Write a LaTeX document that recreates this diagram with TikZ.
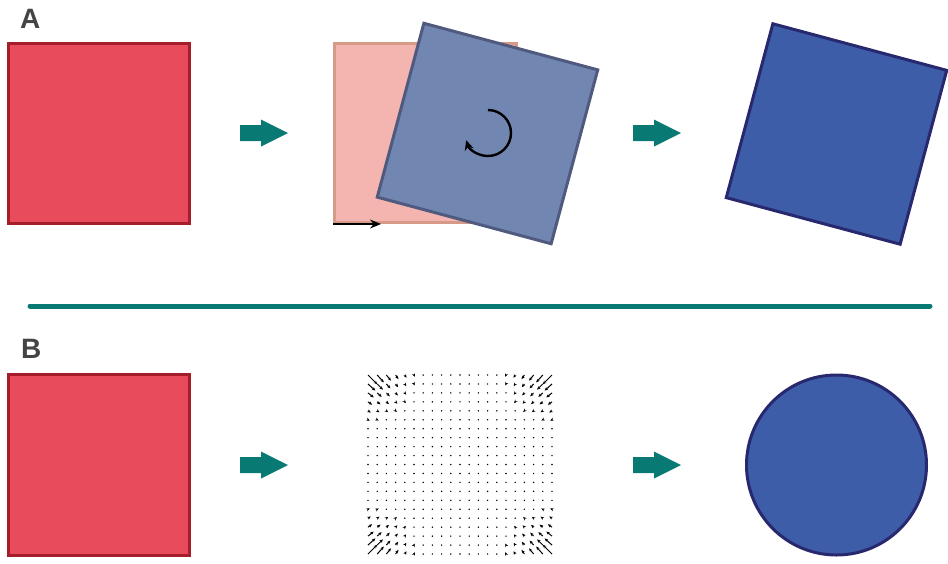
\documentclass[tikz,border=0pt]{standalone}
\usepackage{fontspec}
\setmainfont{Liberation Sans}
\usetikzlibrary{arrows.meta}
\definecolor{redfill}{HTML}{E84B5C}
\definecolor{redline}{HTML}{A51D2B}
\definecolor{pinkfill}{HTML}{F4B5B0}
\definecolor{pinkline}{HTML}{D69A88}
\definecolor{midfill}{HTML}{7286B2}
\definecolor{midline}{HTML}{505A7E}
\definecolor{bluefill}{HTML}{3D5DA8}
\definecolor{blueline}{HTML}{28286E}
\definecolor{tealc}{HTML}{097A73}
\definecolor{labelc}{HTML}{444444}
\newcommand\tealarrow[2]{\fill[tealc] (#1,#2-8) -- ++(21,0) -- ++(0,-5.5) -- ++(27,13.5) -- ++(-27,13.5) -- ++(0,-5.5) -- ++(-21,0) -- cycle;}
\begin{document}
\begin{tikzpicture}[x=1pt,y=-1pt,
  redsq/.style={fill=redfill,draw=redline,line width=3pt},
  pinksq/.style={fill=pinkfill,draw=pinkline,line width=3pt},
  midsq/.style={fill=midfill,draw=midline,line width=3pt},
  bluesq/.style={fill=bluefill,draw=blueline,line width=3pt},
  panel/.style={font=\bfseries\fontsize{28}{28}\selectfont,text=labelc,inner sep=0pt,anchor=base west},
  vec/.style={line width=1pt,-{Stealth[length=3.5pt,width=3pt]}}]
\useasboundingbox (0,0) rectangle (948,563);
% labels
\node[panel] (labA) at (20,28) {A};
\node[panel] (labB) at (21,358) {B};
% row A
\draw[redsq] (8.5,43.5) rectangle (189.5,223.5);
\tealarrow{240}{133}
\draw[pinksq] (334.5,43.5) rectangle (516.5,222.5);
\draw[line width=1.6pt,-{Stealth[length=11pt,width=9pt]}] (333,224) -- (381,224);
\draw[midsq,shift={(487.5,133.5)},rotate=-15] (-90,-90) rectangle (90,90);
\draw[line width=2.4pt,-{Stealth[length=10pt,width=9pt]}] (488,133) ++(-90:23) arc[start angle=-90,end angle=162,radius=23];
\tealarrow{633}{133}
\draw[bluesq,shift={(836.5,134)},rotate=-15] (-90,-90) rectangle (90,90);
% divider
\draw[tealc,line width=5pt,line cap=round] (30,306) -- (930,306);
% row B
\draw[redsq] (8.5,374.5) rectangle (189.5,555.5);
\tealarrow{240}{465}
\foreach \i in {-10,...,10}{
  \foreach \j in {-10,...,10}{
    \pgfmathsetmacro\px{\i/10}
    \pgfmathsetmacro\py{\j/10}
    \pgfmathsetmacro\rinf{max(abs(\px),abs(\py))}
    \pgfmathsetmacro\rtwo{max(sqrt(\px*\px+\py*\py),0.0001)}
    \pgfmathsetmacro\vv{max(\rtwo-\rinf,0)/0.41421}
    \pgfmathsetmacro\L{13*\vv*sqrt(\vv)*\rinf*\rinf*\rinf}
    \pgfmathsetmacro\dx{-\L*\px/\rtwo}
    \pgfmathsetmacro\dy{-\L*\py/\rtwo}
    \pgfmathsetmacro\X{460+\i*9.2}
    \pgfmathsetmacro\Y{464.5+\j*8.95}
    \ifdim\L pt>1.6pt
      \draw[vec] (\X,\Y) -- ++(\dx,\dy);
    \else
      \fill (\X,\Y) circle (0.8);
    \fi
  }
}
\tealarrow{633}{465}
\draw[bluesq] (836.5,465) circle (90);
\end{tikzpicture}
\end{document}
